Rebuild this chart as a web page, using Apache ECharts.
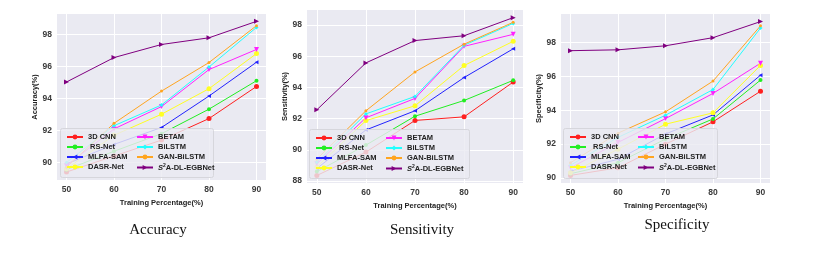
<!DOCTYPE html>
<html><head><meta charset="utf-8">
<script src="https://cdn.jsdelivr.net/npm/echarts@6/dist/echarts.min.js"></script>
<style>html,body{margin:0;padding:0;background:#fff}#c{width:814px;height:254px}</style>
</head><body><div id="c"></div>
<script>
// ---- data ----
const trainPct = [50, 60, 70, 80, 90];
const xTicks = [50, 60, 70, 80, 90];
const accTicks = [90, 92, 94, 96, 98];
const senTicks = [88, 90, 92, 94, 96, 98];
const speTicks = [90, 92, 94, 96, 98];
const methods = ['3D CNN', 'RS-Net', 'MLFA-SAM', 'DASR-Net', 'BETAM', 'BiLSTM', 'GAN-BiLSTM', 'S2A-DL-EGBNet'];
const captions = ['Accuracy', 'Sensitivity', 'Specificity'];
const yNames = ['Accuracy(%)', 'Sensitivity(%)', 'Specificity(%)'];

const acc3DCNN   = [89.40, 90.40, 91.40, 92.75, 94.76];
const accRSNet   = [89.55, 90.70, 91.80, 93.34, 95.12];
const accMLFA    = [89.90, 91.13, 92.19, 94.16, 96.28];
const accDASR    = [89.60, 91.70, 93.02, 94.62, 96.82];
const accBETAM   = [89.80, 92.10, 93.50, 95.82, 97.08];
const accBiLSTM  = [90.00, 92.30, 93.60, 95.98, 98.46];
const accGAN     = [89.70, 92.45, 94.47, 96.26, 98.57];
const accS2A     = [95.04, 96.57, 97.39, 97.81, 98.84];

const sen3DCNN   = [88.35, 89.85, 91.88, 92.11, 94.34];
const senRSNet   = [88.60, 90.30, 92.15, 93.16, 94.45];
const senMLFA    = [88.80, 91.27, 92.50, 94.63, 96.47];
const senDASR    = [88.90, 91.87, 92.82, 95.40, 96.95];
const senBETAM   = [89.10, 92.05, 93.29, 96.63, 97.40];
const senBiLSTM  = [89.20, 92.30, 93.42, 96.70, 98.10];
const senGAN     = [89.40, 92.50, 94.99, 96.77, 98.17];
const senS2A     = [92.56, 95.57, 97.00, 97.31, 98.47];

const spe3DCNN   = [90.15, 90.60, 92.00, 93.32, 95.13];
const speRSNet   = [90.25, 90.90, 92.30, 93.49, 95.79];
const speMLFA    = [90.40, 91.10, 92.60, 93.73, 96.08];
const speDASR    = [90.30, 91.70, 93.18, 93.85, 96.66];
const speBETAM   = [90.60, 92.10, 93.51, 95.00, 96.79];
const speBiLSTM  = [90.75, 92.40, 93.71, 95.23, 98.87];
const speGAN     = [90.90, 92.65, 93.91, 95.73, 99.00];
const speS2A     = [97.53, 97.58, 97.82, 98.30, 99.25];

const panels = [
  [acc3DCNN, accRSNet, accMLFA, accDASR, accBETAM, accBiLSTM, accGAN, accS2A],
  [sen3DCNN, senRSNet, senMLFA, senDASR, senBETAM, senBiLSTM, senGAN, senS2A],
  [spe3DCNN, speRSNet, speMLFA, speDASR, speBETAM, speBiLSTM, speGAN, speS2A]
];
const yTickSets = [accTicks, senTicks, speTicks];

// ---- styles / layout ----
const colors = ['#ff2020', '#22ee22', '#2222ff', '#ffff22', '#ff22ff', '#22ffff', '#ffa520', '#800080'];
const symbols = ['circle', 'circle', 'triangle', 'circle', 'triangle', 'diamond', 'circle', 'triangle'];
const symRot = [0, 0, 90, 0, 180, 0, 0, -90];
const symSize = [5, 4, 4, 5, 5, 4, 3, 5];
const grids = [
  {left: 57, top: 14, width: 209, height: 166},
  {left: 307, top: 10, width: 216, height: 173},
  {left: 561, top: 14, width: 209, height: 169}
];
const yRanges = [[88.9, 99.3], [87.87, 98.96], [89.7, 99.7]];
const yNameGaps = [14, 16, 14];
const xNameGaps = [9, 10, 8];
const legendBoxes = [
  {x: 60, y: 128, w: 153, h: 49, c1: 66, c2: 136},
  {x: 309, y: 129, w: 160, h: 49, c1: 315, c2: 385},
  {x: 563, y: 128, w: 154, h: 50, c1: 569, c2: 637}
];
const captionPos = [{x: 153, y: 218}, {x: 417, y: 218}, {x: 672, y: 213}];

const font = 'Liberation Sans, Arial, sans-serif';
const chart = echarts.init(document.getElementById('c'), null, {renderer: 'canvas'});

const xAxes = [], yAxes = [], series = [], legends = [], graphics = [], titles = [];
const legendFmt = n => n === 'S2A-DL-EGBNet' ? '{it|S}{sup|2}A-DL-EGBNet' : (n === 'RS-Net' ? ' RS-Net' : n);
const legendText = {
  fontFamily: font, fontWeight: 'bold', fontSize: 7.5, color: '#222', lineHeight: 8,
  rich: {
    it: {fontFamily: font, fontStyle: 'italic', fontWeight: 'bold', fontSize: 7.5, color: '#222'},
    sup: {fontFamily: font, fontWeight: 'bold', fontSize: 5, color: '#222', padding: [0, 0, 4, 0]}
  }
};

panels.forEach((vals, p) => {
  xAxes.push({
    type: 'value', gridIndex: p, min: 48, max: 92,
    name: 'Training Percentage(%)', nameLocation: 'middle', nameGap: xNameGaps[p],
    nameTextStyle: {fontFamily: font, fontWeight: 'bold', fontSize: 7.5, color: '#222', verticalAlign: 'middle', padding: [14, 0, 0, 0]},
    axisLine: {show: false}, axisTick: {show: false, customValues: xTicks},
    axisLabel: {customValues: xTicks, fontFamily: font, fontWeight: 'bold', fontSize: 8.5, color: '#3a3a3a', margin: 5},
    splitLine: {show: true, lineStyle: {color: '#ffffff', width: 1}}
  });
  yAxes.push({
    type: 'value', gridIndex: p, min: yRanges[p][0], max: yRanges[p][1],
    name: yNames[p], nameLocation: 'middle', nameGap: yNameGaps[p],
    nameTextStyle: {fontFamily: font, fontWeight: 'bold', fontSize: 7.5, color: '#222'},
    axisLine: {show: false}, axisTick: {show: false, customValues: yTickSets[p]},
    axisLabel: {customValues: yTickSets[p], fontFamily: font, fontWeight: 'bold', fontSize: 8.5, color: '#3a3a3a', margin: 5},
    splitLine: {show: true, lineStyle: {color: '#ffffff', width: 1}}
  });
  vals.forEach((arr, i) => {
    series.push({
      type: 'line', name: methods[i], xAxisIndex: p, yAxisIndex: p,
      data: trainPct.map((x, k) => [x, arr[k]]),
      symbol: symbols[i], symbolSize: symSize[i], symbolRotate: symRot[i],
      showSymbol: true, animation: false, z: 2,
      lineStyle: {color: colors[i], width: 1}, itemStyle: {color: colors[i]}
    });
  });
  const b = legendBoxes[p];
  graphics.push({
    type: 'rect', left: b.x, top: b.y, z: 3,
    shape: {width: b.w, height: b.h, r: 2},
    style: {fill: 'rgba(234,234,242,0.82)', stroke: '#d6d6dc', lineWidth: 1}
  });
  legends.push({
    orient: 'vertical', left: b.c1, top: b.y + 5, padding: 0, itemGap: 2,
    itemWidth: 16, itemHeight: 6, data: methods.slice(0, 4), z: 5,
    formatter: legendFmt, textStyle: legendText
  });
  legends.push({
    orient: 'vertical', left: b.c2, top: b.y + 5, padding: 0, itemGap: 2,
    itemWidth: 16, itemHeight: 6, data: methods.slice(4), z: 5,
    formatter: legendFmt, textStyle: legendText
  });
  titles.push({
    text: captions[p], left: captionPos[p].x, top: captionPos[p].y, textAlign: 'center',
    textStyle: {fontFamily: 'Liberation Serif, Times New Roman, serif', fontWeight: 'normal', fontSize: 15, color: '#111'}
  });
});

chart.setOption({
  backgroundColor: '#ffffff',
  animation: false,
  title: titles,
  grid: grids.map(g => Object.assign({show: true, backgroundColor: '#eaeaf2', borderWidth: 0}, g)),
  xAxis: xAxes,
  yAxis: yAxes,
  legend: legends,
  graphic: graphics,
  series: series
});
</script></body></html>
